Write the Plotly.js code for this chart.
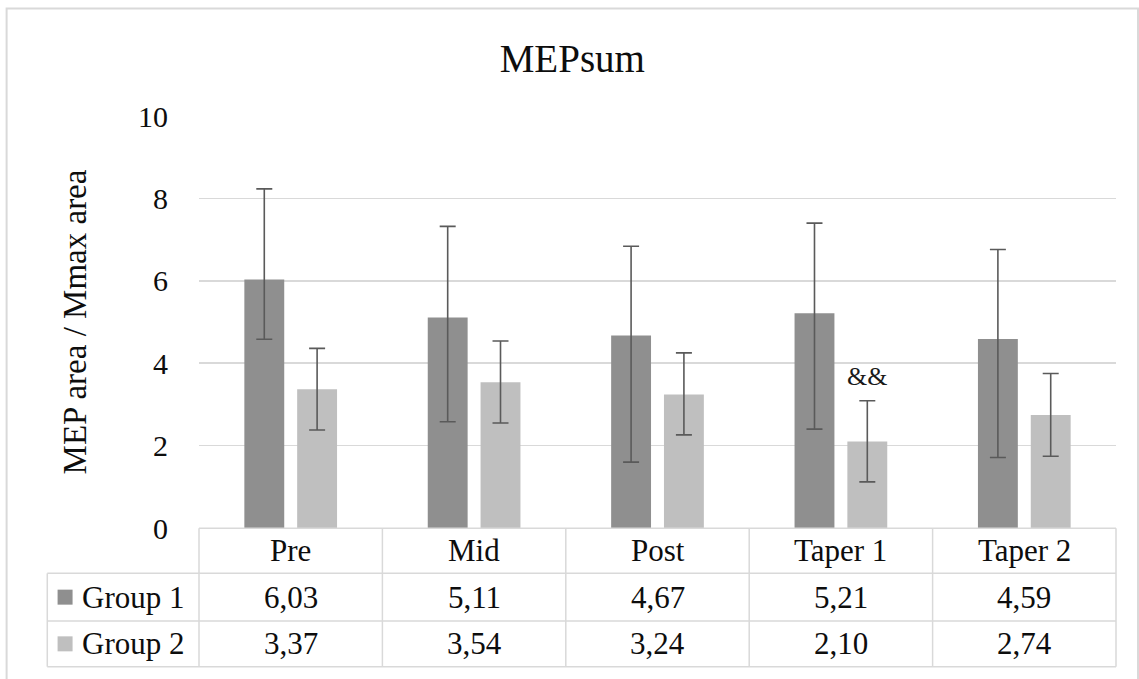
<!DOCTYPE html>
<html>
<head>
<meta charset="utf-8">
<script src="https://cdn.plot.ly/plotly-3.0.1.min.js"></script>
<style>
  html, body { margin: 0; padding: 0; background: #fff; }
  #chart { width: 1139px; height: 679px; }
</style>
</head>
<body>
<div id="chart"></div>
<script>
// Timepoints and group means (MEP area / Mmax area)
const phases = ['Pre', 'Mid', 'Post', 'Taper 1', 'Taper 2'];
const groupNames = ['Group 1', 'Group 2'];
const group1 = [6.03, 5.11, 4.67, 5.21, 4.59];
const group2 = [3.37, 3.54, 3.24, 2.10, 2.74];
// Error bar extents above and below each mean
const group1Plus = [2.20, 2.21, 2.17, 2.19, 2.17];
const group1Minus = [1.45, 2.53, 3.07, 2.81, 2.88];
const group2Plus = [0.99, 1.00, 1.01, 0.99, 1.01];
const group2Minus = [0.99, 0.99, 0.98, 0.98, 1.00];
// Significance marker over Group 2 at Taper 1
const markText = '&&';
const markIndex = 3;

const FONT = 'Liberation Serif, Times New Roman, serif';
const colors = ['#8f8f8f', '#bfbfbf'];
const gridColor = '#d9d9d9';
const errColor = '#5a5a5a';
const textColor = '#0d0d0d';

// Plot-area geometry in pixels, used to place the data table below the axis
const W = 1139, H = 679;
const M = { l: 198.5, r: 23, t: 116, b: 151 };
const pw = W - M.l - M.r, ph = H - M.t - M.b;
const px = x => (x - M.l) / pw;          // pixel x -> paper x
const py = y => (H - M.b - y) / ph;      // pixel y -> paper y

const fmt = v => v.toFixed(2).replace('.', ',');

const errStyle = { color: errColor, thickness: 1.6, width: 8 };
const traces = [
  {
    type: 'bar', name: groupNames[0], x: phases, y: group1,
    marker: { color: colors[0] },
    error_y: Object.assign({ type: 'data', symmetric: false, array: group1Plus, arrayminus: group1Minus }, errStyle),
    hoverinfo: 'skip'
  },
  {
    type: 'bar', name: groupNames[1], x: phases, y: group2,
    marker: { color: colors[1] },
    error_y: Object.assign({ type: 'data', symmetric: false, array: group2Plus, arrayminus: group2Minus }, errStyle),
    hoverinfo: 'skip'
  }
];

// Data table rows (pixel y of the horizontal rules)
const rowTop = 528.3, row1 = 573.3, row2 = 621, rowBot = 666.7;
const labelLeft = 46.7;
const lineStyle = { color: gridColor, width: 1.5 };
const tableFont = { family: FONT, size: 31, color: textColor };

const shapes = [];
// outer chart frame
shapes.push({ type: 'rect', xref: 'paper', yref: 'paper',
  x0: px(6), x1: px(1138), y0: py(700), y1: py(8.5),
  line: { color: '#d9d9d9', width: 2 }, fillcolor: 'rgba(0,0,0,0)', layer: 'below' });
// horizontal table rules
[[0, rowTop], [px(labelLeft), row1], [px(labelLeft), row2], [px(labelLeft), rowBot]].forEach(([x0, y]) => {
  shapes.push({ type: 'line', xref: 'paper', yref: 'paper', x0: x0, x1: 1, y0: py(y), y1: py(y), line: lineStyle });
});
// vertical column separators at category boundaries
for (let i = 0; i <= phases.length; i++) {
  const xv = i / phases.length;
  shapes.push({ type: 'line', xref: 'paper', yref: 'paper', x0: xv, x1: xv, y0: py(rowTop), y1: py(rowBot), line: lineStyle });
}
shapes.push({ type: 'line', xref: 'paper', yref: 'paper', x0: px(labelLeft), x1: px(labelLeft), y0: py(row1), y1: py(rowBot), line: lineStyle });

const annotations = [];
const rowMid = [(row1 + row2) / 2, (row2 + rowBot) / 2];
const series = [group1, group2];
series.forEach((vals, r) => {
  // legend key square
  shapes.push({ type: 'rect', xref: 'paper', yref: 'paper',
    x0: px(57), x1: px(72), y0: py(rowMid[r] + 7.5), y1: py(rowMid[r] - 7.5),
    line: { width: 0 }, fillcolor: colors[r] });
  annotations.push({ xref: 'paper', yref: 'paper', x: px(79), y: py(rowMid[r]),
    xanchor: 'left', yanchor: 'middle', showarrow: false, text: groupNames[r],
    font: tableFont });
  vals.forEach((v, i) => {
    annotations.push({ xref: 'x', yref: 'paper', x: i, y: py(rowMid[r]),
      xanchor: 'center', yanchor: 'middle', showarrow: false, text: fmt(v),
      font: tableFont });
  });
});
// category names in the table header row
phases.forEach((p, i) => {
  annotations.push({ xref: 'x', yref: 'paper', x: i, y: py((rowTop + row1) / 2),
    xanchor: 'center', yanchor: 'middle', showarrow: false, text: p,
    font: tableFont });
});
// significance marker above the Group 2 error bar
annotations.push({ xref: 'x', yref: 'y', x: markIndex + 0.144,
  y: group2[markIndex] + group2Plus[markIndex], yanchor: 'bottom', yshift: 8,
  showarrow: false, text: markText,
  font: { family: FONT, size: 26, color: '#1a1a1a' } });

const layout = {
  width: W, height: H,
  margin: M,
  paper_bgcolor: '#fff', plot_bgcolor: '#fff',
  showlegend: false,
  barmode: 'group',
  bargap: 0.424,
  bargroupgap: 0.245,
  title: {
    text: 'MEPsum',
    font: { family: FONT, size: 39, color: textColor },
    xref: 'paper', x: px(572), xanchor: 'center',
    yref: 'container', y: 1 - 58 / H, yanchor: 'middle'
  },
  xaxis: {
    type: 'category',
    showticklabels: false,
    ticks: '',
    showgrid: false,
    showline: false,
    zeroline: false,
    fixedrange: true
  },
  yaxis: {
    range: [0, 10],
    dtick: 2,
    tick0: 0,
    ticks: '',
    ticklabelstandoff: 30,
    tickfont: { family: FONT, size: 30, color: textColor },
    showgrid: true,
    gridcolor: gridColor,
    gridwidth: 1.5,
    zeroline: false,
    showline: false,
    title: {
      text: 'MEP area / Mmax area',
      font: { family: FONT, size: 33, color: textColor },
      standoff: 41
    },
    fixedrange: true
  },
  shapes: shapes,
  annotations: annotations
};

Plotly.newPlot('chart', traces, layout, { staticPlot: true, displayModeBar: false });
</script>
</body>
</html>
